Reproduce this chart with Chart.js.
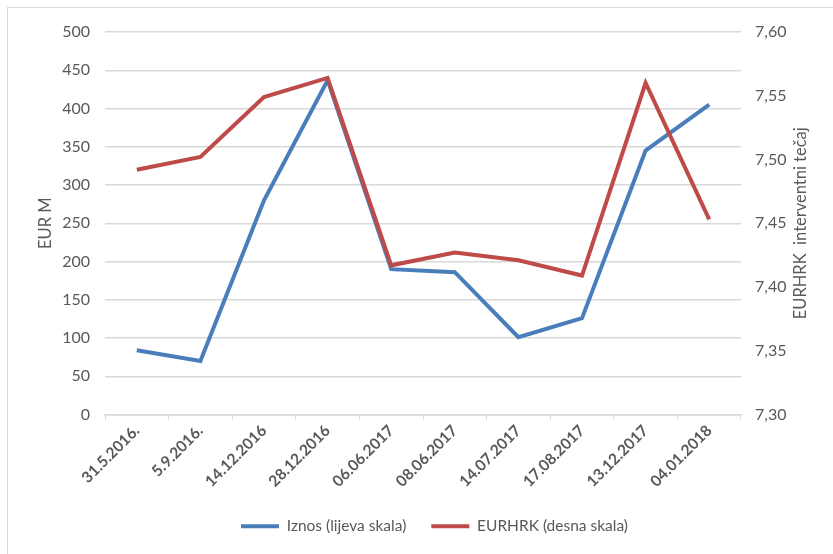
<!DOCTYPE html>
<html>
<head>
<meta charset="utf-8">
<script src="https://cdn.jsdelivr.net/npm/chart.js@4"></script>
<style>
  html, body { margin: 0; padding: 0; background: #fff; }
  #wrap { width: 833px; height: 554px; position: relative; }
</style>
</head>
<body>
<div id="wrap"><canvas id="chart" width="833" height="554"></canvas></div>
<script>
Chart.defaults.animation = false;

const dates = ['31.5.2016.', '5.9.2016.', '14.12.2016', '28.12.2016', '06.06.2017',
  '08.06.2017', '14.07.2017', '17.08.2017', '13.12.2017', '04.01.2018'];
const iznos = [84, 70, 280, 437, 190, 186, 101, 126, 345, 405];
const eurhrk = [7.492, 7.502, 7.549, 7.564, 7.417, 7.427, 7.421, 7.409, 7.560, 7.453];

const grey = '#595959';
const gridCol = '#d9d9d9';

// frame + right axis title (bottom-to-top like the left one)
const extras = {
  id: 'extras',
  beforeDraw(chart) {
    const c = chart.ctx;
    c.save();
    c.strokeStyle = gridCol;
    c.lineWidth = 1;
    c.strokeRect(7.5, 7.5, 900, 900);
    c.restore();
  },
  afterDraw(chart) {
    const c = chart.ctx;
    const a = chart.chartArea;
    c.save();
    c.translate(801, (a.top + a.bottom) / 2);
    c.rotate(-Math.PI / 2);
    c.font = '16.5px Lato';
    c.fillStyle = grey;
    c.textAlign = 'center';
    c.textBaseline = 'middle';
    c.fillText('EURHRK  interventni tečaj', 0, 0);
    c.restore();
  }
};

new Chart(document.getElementById('chart'), {
  type: 'line',
  data: {
    labels: dates,
    datasets: [{
      label: 'Iznos (lijeva skala)',
      data: iznos,
      yAxisID: 'y',
      borderColor: '#4a7ebb',
      backgroundColor: '#4a7ebb',
      borderWidth: 4,
      pointRadius: 0,
      tension: 0,
      order: 1
    }, {
      label: 'EURHRK (desna skala)',
      data: eurhrk,
      yAxisID: 'y1',
      borderColor: '#be4b48',
      backgroundColor: '#be4b48',
      borderWidth: 4,
      pointRadius: 0,
      tension: 0,
      order: 0
    }]
  },
  options: {
    responsive: false,
    layout: { padding: { left: 36, right: 0, top: 32, bottom: 10 } },
    plugins: {
      legend: {
        position: 'bottom',
        labels: {
          usePointStyle: true,
          pointStyle: 'line',
          pointStyleWidth: 38,
          padding: 25,
          color: grey,
          font: { family: 'Lato', size: 15.5 },
          sort: (a, b) => a.datasetIndex - b.datasetIndex
        }
      },
      tooltip: { enabled: false }
    },
    scales: {
      x: {
        offset: true,
        grid: { offset: true, drawOnChartArea: false, drawTicks: true, tickLength: 5, color: gridCol },
        border: { color: gridCol, width: 1.5 },
        ticks: {
          autoSkip: false,
          maxRotation: 45,
          minRotation: 45,
          padding: 2,
          color: grey,
          font: { family: 'Lato', size: 15.5, weight: 'bold' }
        },
        afterFit: (s) => { s.height = 79; }
      },
      y: {
        position: 'left',
        min: 0,
        max: 500,
        ticks: { stepSize: 50, padding: 15, color: grey, font: { family: 'Lato', size: 16 } },
        grid: { color: gridCol, lineWidth: 1.5, drawTicks: false },
        border: { display: false },
        title: { display: true, text: 'EUR M', color: grey, padding: 0, font: { family: 'Lato', size: 16.5 } },
        afterFit: (s) => { s.width = 69; }
      },
      y1: {
        position: 'right',
        min: 7.3,
        max: 7.6,
        ticks: {
          stepSize: 0.05,
          padding: 14,
          color: grey,
          font: { family: 'Lato', size: 16 },
          callback: (v) => v.toFixed(2).replace('.', ',')
        },
        grid: { drawOnChartArea: false, drawTicks: false },
        border: { display: false },
        afterFit: (s) => { s.width = 92; }
      }
    }
  },
  plugins: [extras]
});
</script>
</body>
</html>
